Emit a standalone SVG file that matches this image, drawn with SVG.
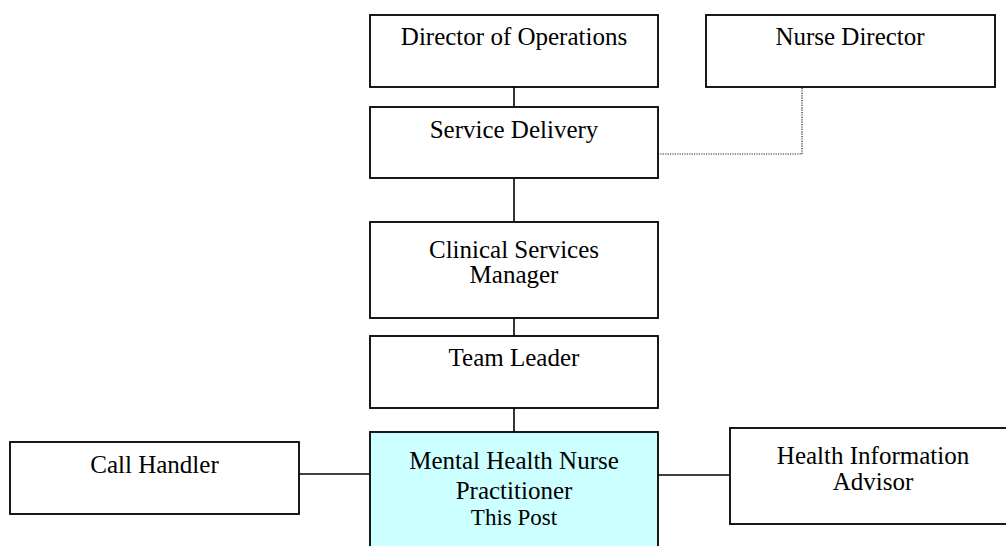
<svg xmlns="http://www.w3.org/2000/svg" width="1006" height="546" viewBox="0 0 1006 546">
<style>
.box{fill:#fff;stroke:#000;stroke-width:1.8}
.post{fill:#ccffff;stroke:#000;stroke-width:1.8}
.t{font-family:"Liberation Serif","Times New Roman",serif;font-size:25px;fill:#000;text-anchor:middle}
.s{font-size:23px}
.ln{stroke:#000;stroke-width:1.6;fill:none}
.dot{stroke:#222;stroke-width:1.2;fill:none;stroke-dasharray:1.2 1.2}
</style>
<rect width="1006" height="546" fill="#fff"/>
<g id="connectors">
<line class="ln" x1="514" y1="87" x2="514" y2="107"/>
<line class="ln" x1="514" y1="178" x2="514" y2="222"/>
<line class="ln" x1="514" y1="318" x2="514" y2="336"/>
<line class="ln" x1="514" y1="408" x2="514" y2="432"/>
<line class="ln" x1="299" y1="474" x2="370" y2="474"/>
<line class="ln" x1="658" y1="475" x2="730" y2="475"/>
<polyline class="dot" points="658,154 802,154 802,88"/>
</g>
<g id="director-ops">
<rect class="box" x="370" y="15" width="288" height="72"/>
<text class="t" x="514" y="45">Director of Operations</text>
</g>
<g id="nurse-director">
<rect class="box" x="706" y="15" width="289" height="72"/>
<text class="t" x="850" y="45">Nurse Director</text>
</g>
<g id="service-delivery">
<rect class="box" x="370" y="107" width="288" height="71"/>
<text class="t" x="514" y="138">Service Delivery</text>
</g>
<g id="clinical-services">
<rect class="box" x="370" y="222" width="288" height="96"/>
<text class="t" x="514" y="258">Clinical Services</text>
<text class="t" x="514" y="283">Manager</text>
</g>
<g id="team-leader">
<rect class="box" x="370" y="336" width="288" height="72"/>
<text class="t" x="514" y="366">Team Leader</text>
</g>
<g id="call-handler">
<rect class="box" x="10" y="442" width="289" height="72"/>
<text class="t" x="154.5" y="473">Call Handler</text>
</g>
<g id="mhnp">
<rect class="post" x="370" y="432" width="288" height="130"/>
<text class="t" x="514" y="469">Mental Health Nurse</text>
<text class="t" x="514" y="499">Practitioner</text>
<text class="t s" x="514" y="525">This Post</text>
</g>
<g id="health-info">
<rect class="box" x="730" y="428" width="290" height="96"/>
<text class="t" x="873" y="464">Health Information</text>
<text class="t" x="873" y="490">Advisor</text>
</g>
</svg>
